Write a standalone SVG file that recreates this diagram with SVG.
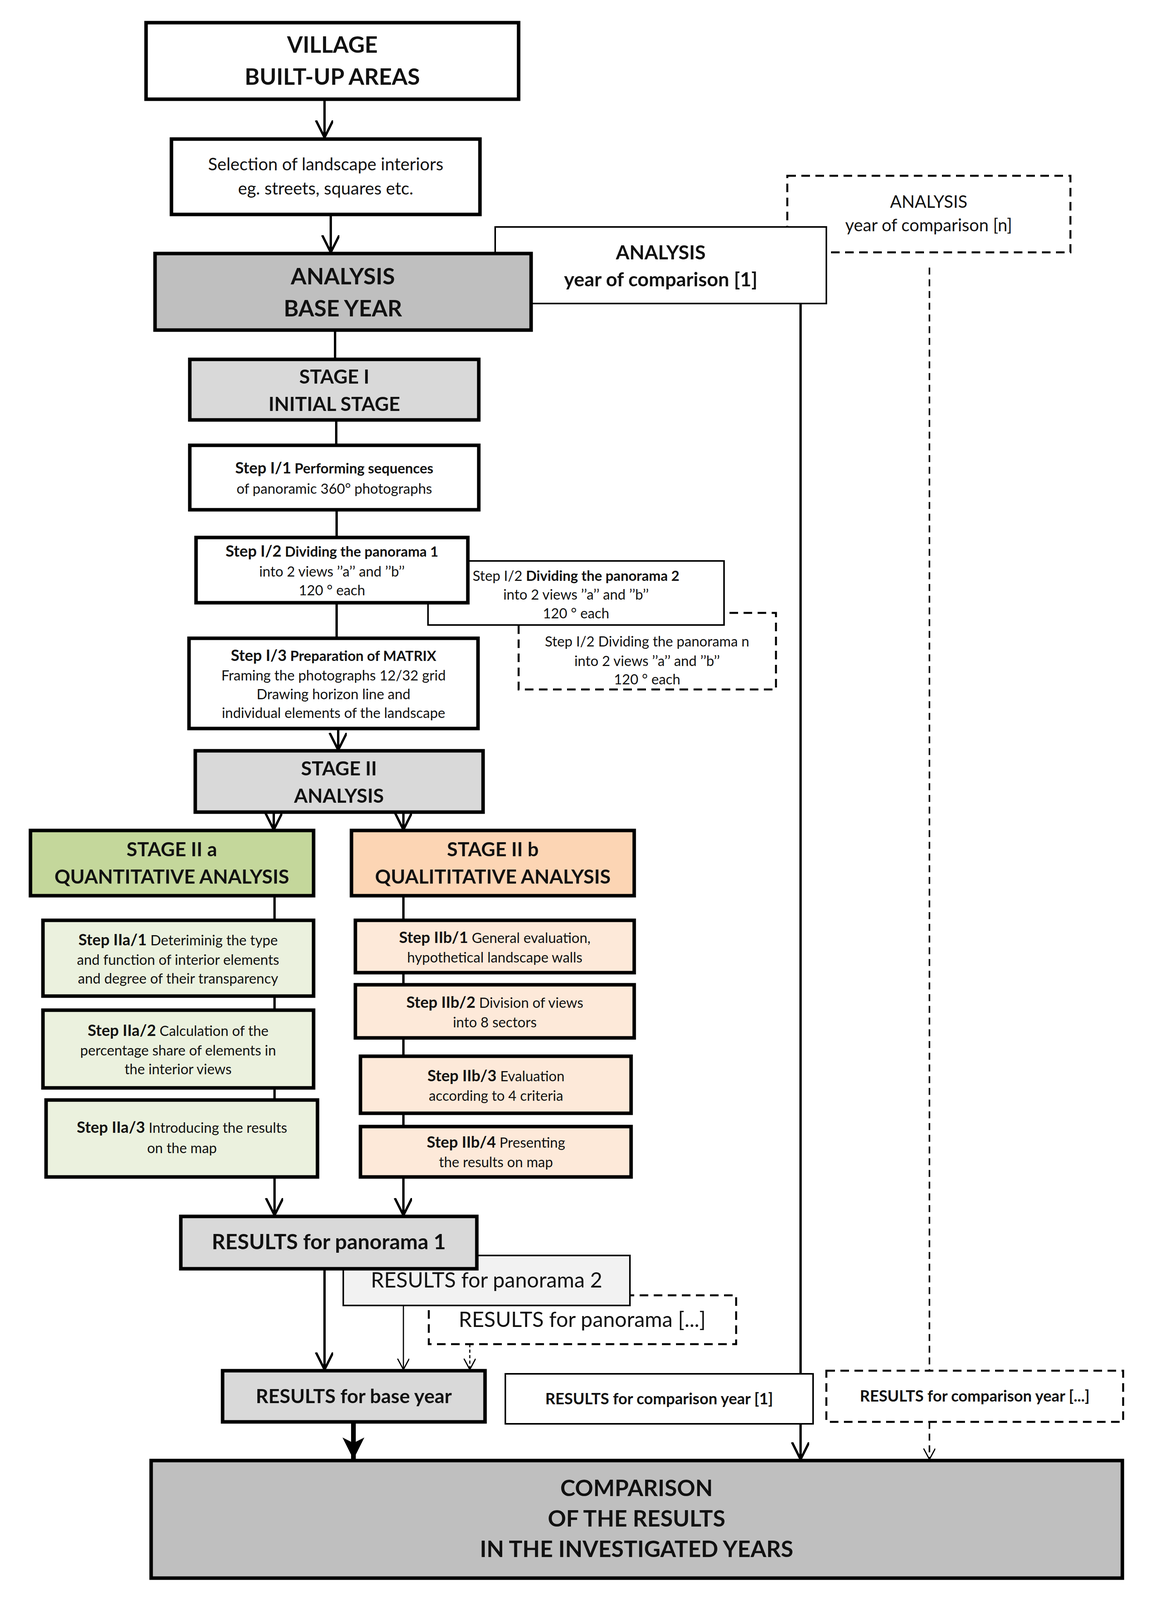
<svg xmlns="http://www.w3.org/2000/svg" width="2955" height="4115" viewBox="0 0 2955 4115">
<defs>
<style>
text{font-family:Lato,"Open Sans","Liberation Sans",sans-serif;fill:#111;text-anchor:middle}
.b{stroke:#000;stroke-width:9}
.t{stroke:#000;stroke-width:4}
.d{stroke:#000;stroke-width:5;stroke-dasharray:22 14;fill:#fff}
.h{font-size:58px;font-weight:bold}
.m{font-size:50px;font-weight:bold}
.s{font-size:36px}
.sb{font-weight:bold;font-size:40px}
.l{stroke:#000;stroke-width:6;fill:none}
.ld{stroke:#000;stroke-width:4;fill:none;stroke-dasharray:18 12}
</style>
<marker id="a" markerWidth="10" markerHeight="10" refX="8" refY="5" orient="auto" markerUnits="userSpaceOnUse" viewBox="0 0 10 10"><path d="M0,0 L8,5 L0,10" fill="none" stroke="#000" stroke-width="1.2"/></marker>
<marker id="ad" markerWidth="30" markerHeight="40" refX="28" refY="15" orient="auto" markerUnits="userSpaceOnUse"><path d="M0,0 L28,15 L0,30" fill="none" stroke="#000" stroke-width="3"/></marker>
<marker id="ab" markerWidth="60" markerHeight="60" refX="56" refY="28" orient="auto" markerUnits="userSpaceOnUse"><path d="M0,0 L56,28 L0,56 L14,28Z" fill="#000"/></marker>
<marker id="am" markerWidth="50" markerHeight="50" refX="44" refY="22" orient="auto" markerUnits="userSpaceOnUse"><path d="M0,0 L44,22 L0,44" fill="none" stroke="#000" stroke-width="6"/></marker>
</defs>
<rect width="2955" height="4115" fill="#fff"/>
<g id="connectors">
<line class="l" x1="831" y1="254" x2="831" y2="352" marker-end="url(#am)"/>
<line class="l" x1="847" y1="549" x2="847" y2="646" marker-end="url(#am)"/>
<line class="ld" x1="2380" y1="685" x2="2380" y2="3509"/>
<line class="ld" x1="2380" y1="3640" x2="2380" y2="3736" marker-end="url(#ad)"/>
<line class="l" x1="2050" y1="777" x2="2050" y2="3736" marker-end="url(#am)"/>
<line class="l" x1="858" y1="845" x2="858" y2="920"/>
<line class="l" x1="861" y1="1075" x2="861" y2="1140"/>
<line class="l" x1="862" y1="1305" x2="862" y2="1376"/>
<line class="l" x1="862" y1="1543" x2="862" y2="1634"/>
<line class="l" x1="866" y1="1865" x2="866" y2="1920" marker-end="url(#am)"/>
<line class="l" x1="701" y1="2079" x2="701" y2="2124" marker-end="url(#am)"/>
<line class="l" x1="1033" y1="2079" x2="1033" y2="2124" marker-end="url(#am)"/>
<line class="l" x1="703" y1="2293" x2="703" y2="2816"/>
<line class="l" x1="1033" y1="2293" x2="1033" y2="2884"/>
<line class="l" x1="703" y1="3013" x2="703" y2="3111" marker-end="url(#am)"/>
<line class="l" x1="1033" y1="3013" x2="1033" y2="3111" marker-end="url(#am)"/>
<line class="l" x1="831" y1="3248" x2="831" y2="3506" marker-end="url(#am)"/>
<line x1="1033" y1="3342" x2="1033" y2="3506" stroke="#000" stroke-width="3" marker-end="url(#ad)"/>
<line x1="1203" y1="3441" x2="1203" y2="3506" stroke="#000" stroke-width="3" stroke-dasharray="8 6" marker-end="url(#ad)"/>
<line x1="905" y1="3640" x2="905" y2="3736" stroke="#000" stroke-width="12" marker-end="url(#ab)"/>
</g>
<g id="village"><rect class="b" x="374" y="58" width="954" height="196" fill="#fff"/><text class="h" x="851" y="135">VILLAGE</text><text class="h" x="851" y="217">BUILT-UP AREAS</text></g>
<g id="selection"><rect class="b" x="439" y="356" width="790" height="193" fill="#fff"/><text class="s" x="834" y="436" style="font-size:44px">Selection of landscape interiors</text><text class="s" x="834" y="498" style="font-size:44px">eg. streets, squares etc.</text></g>
<g id="analysis-n"><rect class="d" x="2016" y="450" width="725" height="196"/><text class="s" x="2378" y="532" style="font-size:44px">ANALYSIS</text><text class="s" x="2378" y="592" style="font-size:44px">year of comparison [n]</text></g>
<g id="analysis-1"><rect class="t" x="1268" y="581" width="848" height="196" fill="#fff"/><text class="m" x="1692" y="664">ANALYSIS</text><text class="m" x="1692" y="733">year of comparison [1]</text></g>
<g id="analysis-base"><rect class="b" x="397" y="649" width="963" height="196" fill="#bfbfbf"/><text class="h" x="878" y="728">ANALYSIS</text><text class="h" x="878" y="810">BASE YEAR</text></g>
<g id="stage1"><rect class="b" x="486" y="920" width="740" height="155" fill="#d9d9d9"/><text class="m" x="856" y="982">STAGE I</text><text class="m" x="856" y="1052">INITIAL STAGE</text></g>
<g id="step-i1"><rect class="b" x="486" y="1140" width="740" height="165" fill="#fff"/><text class="s" x="856" y="1212"><tspan class="sb">Step I/1</tspan><tspan font-weight="bold"> Performing sequences</tspan></text><text class="s" x="856" y="1264">of panoramic 360° photographs</text></g>
<g id="step-i2-n"><rect class="d" x="1328" y="1569" width="659" height="196"/><text class="s" x="1657" y="1655">Step I/2 Dividing the panorama n</text><text class="s" x="1657" y="1705">into 2 views ’’a’’  and ’’b’’</text><text class="s" x="1657" y="1752">120 ° each</text></g>
<g id="step-i2-2"><rect class="t" x="1096" y="1436" width="758" height="164" fill="#fff"/><text class="s" x="1475" y="1487">Step I/2 <tspan font-weight="bold">Dividing the panorama 2</tspan></text><text class="s" x="1475" y="1535">into  2 views ’’a’’  and ’’b’’</text><text class="s" x="1475" y="1583">120 ° each</text></g>
<g id="step-i2-1"><rect class="b" x="502" y="1376" width="696" height="167" fill="#fff"/><text class="s" x="850" y="1425"><tspan class="sb">Step I/2</tspan><tspan font-weight="bold"> Dividing the panorama 1</tspan></text><text class="s" x="850" y="1476">into 2 views ’’a’’  and ’’b’’</text><text class="s" x="850" y="1524">120 ° each</text></g>
<g id="step-i3"><rect class="b" x="484" y="1634" width="740" height="231" fill="#fff"/><text class="s" x="854" y="1692"><tspan class="sb">Step I/3</tspan><tspan font-weight="bold"> Preparation of MATRIX</tspan></text><text class="s" x="854" y="1742">Framing the photographs 12/32 grid</text><text class="s" x="854" y="1790">Drawing horizon line and</text><text class="s" x="854" y="1838">individual elements of the landscape</text></g>
<g id="stage2"><rect class="b" x="500" y="1922" width="737" height="157" fill="#d9d9d9"/><text class="m" x="868" y="1985">STAGE II</text><text class="m" x="868" y="2055">ANALYSIS</text></g>
<g id="stage2a"><rect class="b" x="78" y="2126" width="725" height="167" fill="#c4d79b"/><text class="m" x="440" y="2192">STAGE  II a</text><text class="m" x="440" y="2262">QUANTITATIVE ANALYSIS</text></g>
<g id="stage2b"><rect class="b" x="900" y="2126" width="724" height="167" fill="#fcd5b4"/><text class="m" x="1262" y="2192">STAGE II b</text><text class="m" x="1262" y="2262">QUALITITATIVE ANALYSIS</text></g>
<g id="step-iia1"><rect class="b" x="110" y="2356" width="693" height="194" fill="#ebf1de"/><text class="s" x="456" y="2420"><tspan class="sb">Step IIa/1</tspan>  Deteriminig the type</text><text class="s" x="456" y="2470">and function of interior elements</text><text class="s" x="456" y="2518">and degree of their transparency</text></g>
<g id="step-iia2"><rect class="b" x="110" y="2586" width="693" height="199" fill="#ebf1de"/><text class="s" x="456" y="2652"><tspan class="sb">Step IIa/2</tspan>  Calculation of the</text><text class="s" x="456" y="2702">percentage  share of elements in</text><text class="s" x="456" y="2750">the interior views</text></g>
<g id="step-iia3"><rect class="b" x="118" y="2816" width="695" height="197" fill="#ebf1de"/><text class="s" x="466" y="2900"><tspan class="sb">Step IIa/3</tspan>  Introducing the results</text><text class="s" x="466" y="2952">on the map</text></g>
<g id="step-iib1"><rect class="b" x="910" y="2356" width="714" height="134" fill="#fde9d9"/><text class="s" x="1267" y="2414"><tspan class="sb">Step IIb/1</tspan> General evaluation,</text><text class="s" x="1267" y="2464">hypothetical landscape walls</text></g>
<g id="step-iib2"><rect class="b" x="910" y="2521" width="714" height="136" fill="#fde9d9"/><text class="s" x="1267" y="2580"><tspan class="sb">Step IIb/2</tspan> Division of views</text><text class="s" x="1267" y="2630">into 8 sectors</text></g>
<g id="step-iib3"><rect class="b" x="923" y="2704" width="693" height="146" fill="#fde9d9"/><text class="s" x="1270" y="2768"><tspan class="sb">Step IIb/3</tspan> Evaluation</text><text class="s" x="1270" y="2818">according to 4 criteria</text></g>
<g id="step-iib4"><rect class="b" x="923" y="2884" width="693" height="129" fill="#fde9d9"/><text class="s" x="1270" y="2938"><tspan class="sb">Step IIb/4</tspan> Presenting</text><text class="s" x="1270" y="2988">the results on map</text></g>
<g id="results-pn"><rect class="d" x="1098" y="3316" width="787" height="125"/><text x="1491" y="3397" style="font-size:54px">RESULTS for panorama [...]</text></g>
<g id="results-p2"><rect class="t" x="879" y="3214" width="734" height="128" fill="#f2f2f2"/><text x="1246" y="3296" style="font-size:54px">RESULTS for panorama 2</text></g>
<g id="results-p1"><rect class="b" x="463" y="3114" width="758" height="134" fill="#d9d9d9"/><text class="m" x="842" y="3198" style="font-size:54px">RESULTS for panorama 1</text></g>
<g id="results-base"><rect class="b" x="570" y="3509" width="672" height="131" fill="#d9d9d9"/><text class="m" x="906" y="3592">RESULTS for base year</text></g>
<g id="results-c1"><rect class="t" x="1294" y="3517" width="788" height="128" fill="#fff"/><text x="1688" y="3595" style="font-size:40px;font-weight:bold">RESULTS for comparison year [1]</text></g>
<g id="results-cn"><rect class="d" x="2116" y="3509" width="760" height="131"/><text x="2496" y="3588" style="font-size:40px;font-weight:bold">RESULTS for  comparison year [...]</text></g>
<g id="comparison"><rect class="b" x="387" y="3739" width="2487" height="301" fill="#bfbfbf"/><text class="h" x="1630" y="3830">COMPARISON</text><text class="h" x="1630" y="3908">OF THE RESULTS</text><text class="h" x="1630" y="3986">IN THE INVESTIGATED YEARS</text></g>
</svg>
